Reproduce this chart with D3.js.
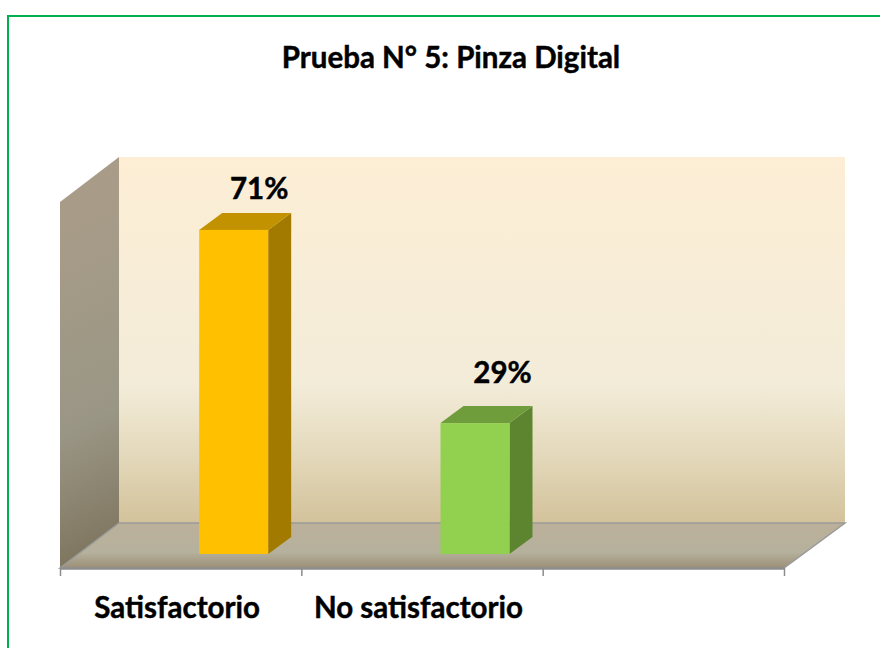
<!DOCTYPE html>
<html>
<head>
<meta charset="utf-8">
<script src="https://cdn.jsdelivr.net/npm/d3@7"></script>
<style>
 html, body { margin: 0; padding: 0; background: #fff; overflow: hidden; }
 text { font-family: Lato, "Open Sans", sans-serif; font-weight: 700; fill: #000; stroke: #000; stroke-width: 0.45; }
</style>
</head>
<body>
<script>

var titleText  = 'Prueba N\u00b0 5: Pinza Digital'
var categories = ['Satisfactorio', 'No satisfactorio', '']
var values     = [71, 29]
var labels     = ['71%', '29%']
var fronts     = ['#ffc000', '#92d050']
var tops       = ['#c29200', '#6f9d3c']
var sides      = ['#a27a00', '#5d8530']

var width  = 880
var height = 648

// plot box, front plane of the floor
var left = 60, right = 784, floorY = 568, wallH = 366
var depthX = 59, depthY = 45
// bars sit inside the floor, not on its front edge
var barBase = 554, barW = 69, barOffset = 18.5, barDx = 23, barDy = 17
var fontSize = 29.5

// data labels were placed by hand in the original, so each has its own shift
var labelDx = [60, 62]
var labelDy = [31, 40]

var svg = d3.select('body').append('svg')
            .attr('width', width)
            .attr('height', height)

var defs = svg.append('defs')

function gradient(id, x1, y1, x2, y2, units, stops) {
  var g = defs.append('linearGradient').attr('id', id)
              .attr('gradientUnits', units)
              .attr('x1', x1).attr('y1', y1).attr('x2', x2).attr('y2', y2)
  stops.forEach(function(s) {
    g.append('stop').attr('offset', s[0]).attr('stop-color', s[1])
  })
}

gradient('backWall', 0, 0, 0, 1, 'objectBoundingBox', [[0, '#fdeed5'], [0.62, '#f3ecd9'], [0.82, '#e3d8ba'], [1, '#d3c29b']])
gradient('sideWall', 30, 230, 170, 530, 'userSpaceOnUse', [[0, '#a89c88'], [0.6, '#9a9685'], [1, '#7d735c']])
gradient('floor', 0, 0, 0, 1, 'objectBoundingBox', [[0, '#bcb09a'], [0.65, '#b5b19c'], [1, '#9c8f77']])

var x = d3.scaleBand().domain(categories).range([left, right])
var y = d3.scaleLinear().domain([0, 80]).range([556.5, 188.5])

function poly(pts) { return d3.line()(pts) + 'Z' }

svg.append('path')
   .attr('d', 'M' + (width + 5) + ',16H8V' + (height + 5))
   .attr('fill', 'none')
   .attr('stroke', '#00b050')
   .attr('stroke-width', 2)

// back wall
svg.append('rect')
   .attr('x', left + depthX)
   .attr('y', floorY - depthY - wallH)
   .attr('width', right - left + 2)
   .attr('height', wallH)
   .attr('fill', 'url(#backWall)')

// left wall
svg.append('path')
   .attr('d', poly([[left, floorY - wallH], [left + depthX, floorY - wallH - depthY], [left + depthX, floorY - depthY], [left, floorY]]))
   .attr('fill', 'url(#sideWall)')

// floor
svg.append('path')
   .attr('d', poly([[left, floorY], [left + depthX, floorY - depthY], [right + depthX + 2, floorY - depthY], [right, floorY]]))
   .attr('fill', 'url(#floor)')
   .attr('stroke', '#9a9a9a')
   .attr('stroke-width', 1.5)

// axis with ticks on the slot edges
var axis = d3.axisBottom(d3.scaleLinear().domain([0, 3]).range([left, right]))
             .tickValues([0, 1, 2, 3])
             .tickFormat('')
             .tickSize(8)
             .tickSizeOuter(0)

var axisG = svg.append('g').attr('transform', 'translate(0,' + floorY + ')').call(axis)
axisG.selectAll('line').attr('stroke', '#8c8c8c').attr('stroke-width', 1.5)
axisG.select('.domain').attr('stroke', '#8c8c8c').attr('stroke-width', 2.5)

var bars = svg.selectAll('.bar').data(values).enter().append('g').attr('class', 'bar')

function barX(i) { return x(categories[i]) + x.bandwidth() / 2 + barOffset }

bars.append('path')
    .attr('fill', function(d, i) { return sides[i] })
    .attr('d', function(d, i) {
      var xr = barX(i) + barW
      return poly([[xr, y(d)], [xr + barDx, y(d) - barDy], [xr + barDx, barBase - barDy], [xr, barBase]])
    })

bars.append('path')
    .attr('fill', function(d, i) { return tops[i] })
    .attr('d', function(d, i) {
      var xl = barX(i)
      return poly([[xl, y(d)], [xl + barDx, y(d) - barDy], [xl + barW + barDx, y(d) - barDy], [xl + barW, y(d)]])
    })

bars.append('rect')
    .attr('fill', function(d, i) { return fronts[i] })
    .attr('x', function(d, i) { return barX(i) })
    .attr('y', function(d) { return y(d) })
    .attr('width', barW)
    .attr('height', function(d) { return barBase - y(d) })

bars.append('text')
    .attr('text-anchor', 'middle')
    .attr('font-size', fontSize)
    .attr('x', function(d, i) { return barX(i) + labelDx[i] })
    .attr('y', function(d, i) { return y(d) - labelDy[i] })
    .text(function(d, i) { return labels[i] })

svg.selectAll('.cat').data(categories).enter().append('text')
   .attr('class', 'cat')
   .attr('text-anchor', 'middle')
   .attr('font-size', fontSize)
   .attr('x', function(d) { return x(d) + x.bandwidth() / 2 - 3.5 })
   .attr('y', 618)
   .text(function(d) { return d })

svg.append('text')
   .attr('text-anchor', 'middle')
   .attr('font-size', fontSize)
   .attr('x', 451)
   .attr('y', 68)
   .text(titleText)

</script>
</body>
</html>
